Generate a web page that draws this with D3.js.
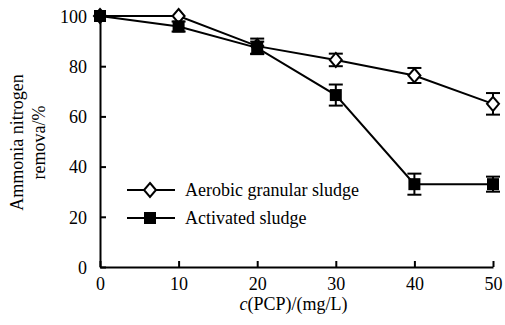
<!DOCTYPE html>
<html>
<head>
<meta charset="utf-8">
<style>
  body { margin: 0; background: #fff; }
  svg text { font-family: "Liberation Serif", "Times New Roman", serif; fill: #000; }
  .line { stroke: #000; stroke-width: 2; fill: none; }
</style>
</head>
<body>
<script src="https://cdn.jsdelivr.net/npm/d3@7"></script>
<script>

var conc      = [0, 10, 20, 30, 40, 50];
var granular  = [100, 100, 88, 82.5, 76.3, 65];
var granErr   = [0, 0, 3, 2.5, 3, 4.3];
var activated = [100, 95.8, 87.3, 68.5, 33, 33];
var actErr    = [0, 2, 2.5, 4.2, 4.2, 3];
var xTicks = [0, 10, 20, 30, 40, 50];
var yTicks = [0, 20, 40, 60, 80, 100];
var seriesNames = ["Aerobic granular sludge", "Activated sludge"];

var W = 505, H = 325;
var x = d3.scaleLinear().domain([0, 50]).range([100, 493]);
var y = d3.scaleLinear().domain([0, 100]).range([267, 16]);

var svg = d3.select('body').append('svg')
    .attr('width', W).attr('height', H);

// axes
var xAxis = d3.axisBottom(x).tickValues(xTicks).tickSize(-6).tickPadding(8).tickSizeOuter(0);
var gx = svg.append('g').attr('transform', `translate(0,${y(0)})`).call(xAxis);
var yAxis = d3.axisLeft(y).tickValues(yTicks).tickSize(-6).tickPadding(13).tickSizeOuter(0);
var gy = svg.append('g').attr('transform', `translate(${x(0)},0)`).call(yAxis);
[gx, gy].forEach(g => {
  g.select('.domain').attr('stroke', '#000').attr('stroke-width', 2);
  g.selectAll('.tick line').attr('stroke', '#000').attr('stroke-width', 2);
  g.selectAll('.tick text').style('font-family', '"Liberation Serif", serif').style('font-size', '18px').attr('fill', '#000');
});
gx.selectAll('.tick text').attr('dy', '0.85em');
gy.selectAll('.tick text').attr('dy', '0.35em');

// axis titles
svg.append('text')
    .attr('x', x(25) - 3).attr('y', 310)
    .attr('text-anchor', 'middle').style('font-size', '18px')
    .html('<tspan font-style="italic">c</tspan>(PCP)/(mg/L)');

var yt = svg.append('text')
    .attr('transform', `translate(23,${y(50) + 1}) rotate(-90)`)
    .attr('text-anchor', 'middle').style('font-size', '18px');
yt.append('tspan').attr('x', 0).attr('y', 0).text('Ammonia nitrogen');
yt.append('tspan').attr('x', 0).attr('y', 22).text('remova/%');

var line = d3.line().x((d, i) => x(conc[i])).y(d => y(d));

function drawSeries(vals, errs, type) {
  var g = svg.append('g');
  g.append('path').datum(vals).attr('class', 'line').attr('d', line);
  vals.forEach((v, i) => {
    var e = errs[i];
    if (e > 0) {
      var cx = x(conc[i]);
      g.append('line').attr('x1', cx).attr('x2', cx).attr('y1', y(v + e)).attr('y2', y(v - e))
        .attr('stroke', '#000').attr('stroke-width', 2);
      [v + e, v - e].forEach(yy => {
        g.append('line').attr('x1', cx - 7).attr('x2', cx + 7).attr('y1', y(yy)).attr('y2', y(yy))
          .attr('stroke', '#000').attr('stroke-width', 2);
      });
    }
    marker(g, x(conc[i]), y(v), type);
  });
}

function marker(g, cx, cy, type) {
  if (type === 'diamond') {
    g.append('path')
      .attr('d', `M${cx},${cy - 7}L${cx + 6},${cy}L${cx},${cy + 7}L${cx - 6},${cy}Z`)
      .attr('fill', '#fff').attr('stroke', '#000').attr('stroke-width', 2);
  } else {
    g.append('rect').attr('x', cx - 6).attr('y', cy - 6).attr('width', 12).attr('height', 12)
      .attr('fill', '#000');
  }
}

drawSeries(granular, granErr, 'diamond');
drawSeries(activated, actErr, 'square');

// legend
var leg = svg.append('g');
[['diamond', 190], ['square', 218]].forEach((d, i) => {
  leg.append('line').attr('x1', 127).attr('x2', 175).attr('y1', d[1]).attr('y2', d[1])
    .attr('stroke', '#000').attr('stroke-width', 2);
  marker(leg, 150, d[1], d[0]);
  leg.append('text').attr('x', 185).attr('y', d[1]).attr('dy', '0.35em')
    .style('font-size', '18px').text(seriesNames[i]);
});

</script>
</body>
</html>
